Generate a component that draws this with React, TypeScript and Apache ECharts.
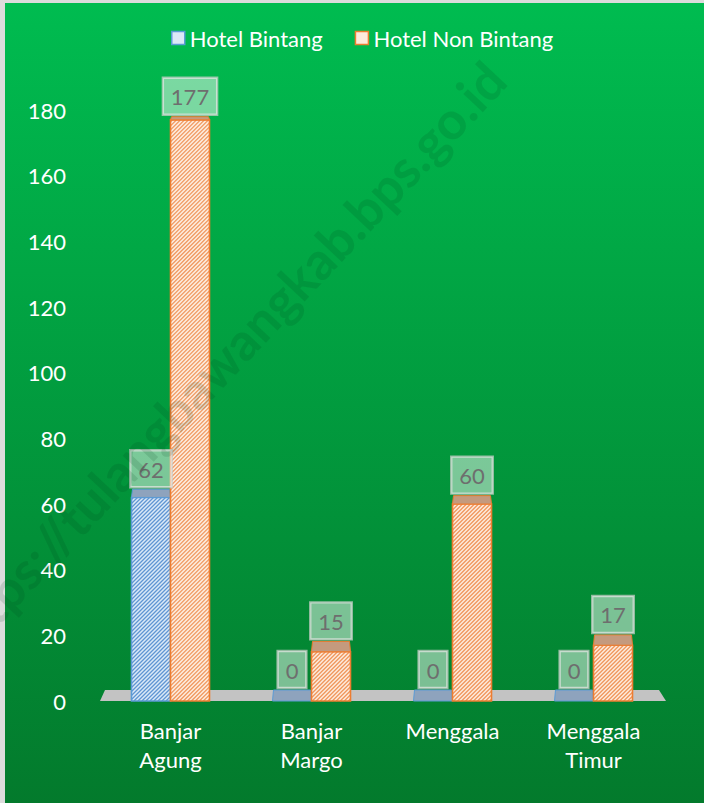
import React, { useEffect, useRef } from "react";
import * as echarts from "echarts";

const categories = ["Banjar\nAgung", "Banjar\nMargo", "Menggala", "Menggala\nTimur"];
const seriesNames = ["Hotel Bintang", "Hotel Non Bintang"];
const hotelBintang = [62, 0, 0, 0];
const hotelNonBintang = [177, 15, 60, 17];
const yMax = 180;
const yInterval = 20;
const watermarkText = "https://tulangbawangkab.bps.go.id";

const FONT = "Lato, 'Open Sans', sans-serif";
const BAR_W = 39;
const styles = [
  { fill: "#dbe9f7", line: "#5f95d3", border: "#5b9bd5", top: "#8ea3bd" },
  { fill: "#fdebdd", line: "#f0955a", border: "#ed7d31", top: "#c49a7e" },
];

function makeRender(si: number) {
  return (params: any, api: any) => {
    const ci = api.value(0);
    const v = api.value(1);
    const base = api.coord([ci, 0]);
    const top = api.coord([ci, v]);
    const cs = params.coordSys;
    const st = styles[si];
    const x0 = si === 0 ? base[0] - BAR_W : base[0];
    const x1 = x0 + BAR_W;
    const y1 = base[1];
    const y0 = top[1];
    const depth = 3 + (8 * (y0 - cs.y)) / cs.height;
    const children: any[] = [];
    if (v > 0) {
      children.push({
        type: "rect",
        shape: { x: x0, y: y0, width: BAR_W, height: y1 - y0 },
        style: { fill: st.fill, stroke: null },
      });
      const step = 4;
      for (let c = x0 + y0 + 2; c < x1 + y1; c += step) {
        const xa = Math.max(x0, c - y1);
        const xb = Math.min(x1, c - y0);
        if (xb - xa < 0.5) continue;
        children.push({
          type: "line",
          shape: { x1: xa, y1: c - xa, x2: xb, y2: c - xb },
          style: { stroke: st.line, lineWidth: 1.3 },
        });
      }
      children.push({
        type: "rect",
        shape: { x: x0, y: y0, width: BAR_W, height: y1 - y0 },
        style: { fill: null, stroke: st.border, lineWidth: 1.6 },
      });
    }
    children.push({
      type: "polygon",
      shape: {
        points: [
          [x0, y0],
          [x1, y0],
          [x1 - 1, y0 - depth],
          [x0 + 1, y0 - depth],
        ],
      },
      style: { fill: st.top, stroke: st.border, lineWidth: 1 },
    });
    children.push({
      type: "text",
      x: (x0 + x1) / 2,
      y: y0 - depth - 2,
      style: {
        text: String(v),
        fill: "#6e6e6e",
        fontSize: 22,
        fontFamily: FONT,
        align: "center",
        verticalAlign: "bottom",
        backgroundColor: "rgba(255,255,255,0.48)",
        borderColor: "rgba(200,205,200,0.75)",
        borderWidth: 1.2,
        padding: [8, 8, 7, 8],
      },
      z2: 10,
    });
    return { type: "group", children };
  };
}

export default function App() {
  const ref = useRef<HTMLDivElement>(null);
  useEffect(() => {
    document.body.style.margin = "0";
    const chart = echarts.init(ref.current!, null, { renderer: "svg" });
    const dataFor = (arr: number[]) => arr.map((v, i) => [i, v]);
    chart.setOption({
      animation: false,
      backgroundColor: "#dcdcdc",
      textStyle: { fontFamily: FONT },
      graphic: [
        {
          type: "rect",
          shape: { x: 5, y: 3, width: 704, height: 803 },
          style: {
            fill: new echarts.graphic.LinearGradient(0, 0, 0, 1, [
              { offset: 0, color: "#00bc50" },
              { offset: 1, color: "#037a2c" },
            ]),
          },
          z: -10,
          silent: true,
        },
        {
          type: "text",
          x: 223,
          y: 359,
          rotation: (46.7 * Math.PI) / 180,
          style: {
            text: watermarkText,
            fill: "rgba(0,55,20,0.13)",
            fontSize: 52,
            fontWeight: "bold",
            fontFamily: FONT,
            align: "center",
            verticalAlign: "middle",
          },
          z: 100,
          silent: true,
        },
      ],
      legend: {
        left: 166,
        top: 22,
        icon: "rect",
        itemWidth: 13,
        itemHeight: 13,
        itemGap: 32,
        textStyle: { color: "#ffffff", fontSize: 22, fontFamily: FONT },
        data: seriesNames.map((n, i) => ({
          name: n,
          itemStyle: { color: styles[i].fill, borderColor: styles[i].border, borderWidth: 1.5 },
        })),
      },
      grid: { left: 100, right: 40, top: 110, bottom: 102 },
      xAxis: {
        type: "category",
        data: categories,
        axisLine: { show: false },
        axisTick: { show: false },
        axisLabel: {
          color: "#ffffff",
          fontSize: 22,
          fontFamily: FONT,
          lineHeight: 29,
          margin: 15,
        },
      },
      yAxis: {
        type: "value",
        min: 0,
        max: yMax,
        interval: yInterval,
        splitLine: { show: false },
        axisLine: { show: false },
        axisTick: { show: false },
        axisLabel: { color: "#ffffff", fontSize: 22, fontFamily: FONT, margin: 34 },
      },
      series: [
        {
          type: "custom",
          name: "floor",
          data: [[0, 0]],
          silent: true,
          z: 1,
          renderItem: (params: any, api: any) => {
            const cs = params.coordSys;
            const yb = cs.y + cs.height;
            return {
              type: "polygon",
              shape: {
                points: [
                  [cs.x, yb],
                  [cs.x + 5, yb - 11],
                  [cs.x + cs.width - 5, yb - 11],
                  [cs.x + cs.width + 2, yb],
                ],
              },
              style: { fill: "#c3c3c3" },
            };
          },
        },
        ...[hotelBintang, hotelNonBintang].map((arr, si) => ({
          type: "custom",
          name: seriesNames[si],
          data: dataFor(arr),
          encode: { x: 0, y: 1 },
          z: 2,
          itemStyle: { color: styles[si].fill, borderColor: styles[si].border, borderWidth: 1.5 },
          renderItem: makeRender(si),
        })),
      ],
    });
    return () => chart.dispose();
  }, []);
  return <div ref={ref} style={{ width: 704, height: 803 }} />;
}
